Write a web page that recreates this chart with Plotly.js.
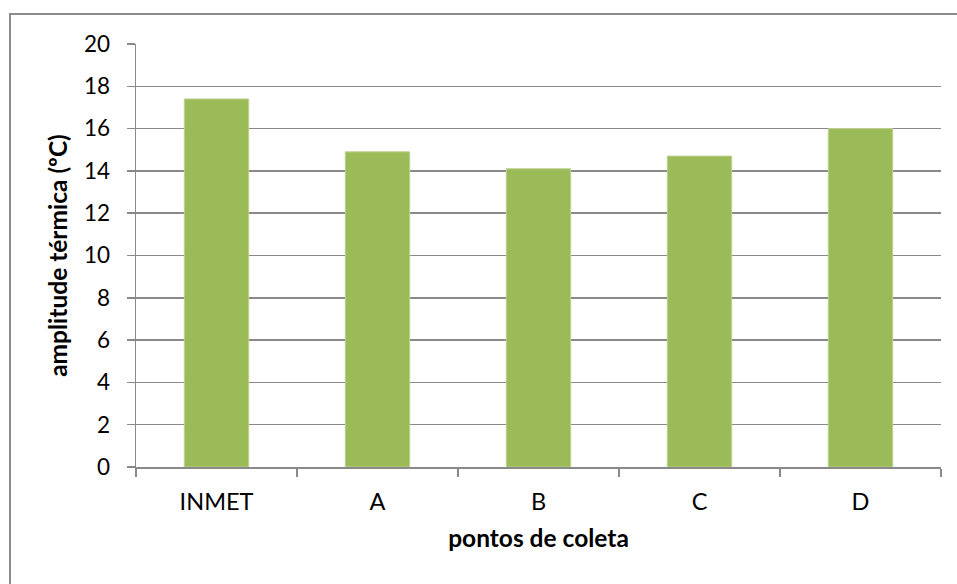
<!DOCTYPE html>
<html>
<head>
<meta charset="utf-8">
<script src="https://cdn.plot.ly/plotly-3.0.1.min.js"></script>
<style>
  html, body { margin: 0; padding: 0; background: #ffffff; }
  #wrap { position: relative; width: 957px; height: 584px; overflow: hidden; }
  #frame {
    position: absolute; left: 9px; top: 13px; width: 1000px; height: 1000px;
    border: 2px solid #8c8c8c; box-sizing: border-box; pointer-events: none;
  }
  #chart { position: absolute; left: 0; top: 0; width: 957px; height: 584px; }
</style>
</head>
<body>
<div id="wrap">
  <div id="frame"></div>
  <div id="chart"></div>
</div>
<script>
// Collection points and their thermal amplitude (°C)
const pontos = ["INMET", "A", "B", "C", "D"];
const amplitude = [17.4, 14.9, 14.1, 14.7, 16.0];
const yTicks = [0, 2, 4, 6, 8, 10, 12, 14, 16, 18, 20];

const FONT = "Lato, 'Open Sans', sans-serif";
const GRID = "#898989";

const trace = {
  type: "bar",
  x: pontos,
  y: amplitude,
  marker: { color: "#9BBB59", line: { color: "#bdd190", width: 1 } },
  hoverinfo: "x+y"
};

const layout = {
  width: 957,
  height: 584,
  margin: { l: 136, r: 16, t: 44, b: 117, pad: 0 },
  paper_bgcolor: "rgba(0,0,0,0)",
  plot_bgcolor: "#ffffff",
  showlegend: false,
  bargap: 0.6,
  font: { family: FONT, size: 22, color: "#000000" },
  xaxis: {
    type: "category",
    showline: true,
    linecolor: GRID,
    linewidth: 1.5,
    ticks: "outside",
    tickson: "boundaries",
    ticklen: 8,
    tickwidth: 1.5,
    tickcolor: GRID,
    ticklabelstandoff: 13,
    showgrid: false,
    zeroline: false,
    tickfont: { family: FONT, size: 23.5, color: "#000000" },
    title: {
      text: "pontos de coleta",
      font: { family: FONT, size: 24.5, color: "#000000", weight: "bold" },
      standoff: 16
    }
  },
  yaxis: {
    range: [0, 20],
    tickvals: yTicks,
    ticktext: yTicks.map(String),
    showline: true,
    linecolor: GRID,
    linewidth: 1.5,
    ticks: "outside",
    ticklen: 8,
    tickwidth: 1.5,
    tickcolor: GRID,
    ticklabelstandoff: 12,
    showgrid: true,
    gridcolor: GRID,
    gridwidth: 1.5,
    zeroline: false,
    tickfont: { family: FONT, size: 22.5, color: "#000000" },
    title: {
      text: "amplitude térmica (ºC)",
      font: { family: FONT, size: 24.5, color: "#000000", weight: "bold" },
      standoff: 9
    }
  }
};

Plotly.newPlot("chart", [trace], layout, { staticPlot: true, displayModeBar: false });
</script>
</body>
</html>
